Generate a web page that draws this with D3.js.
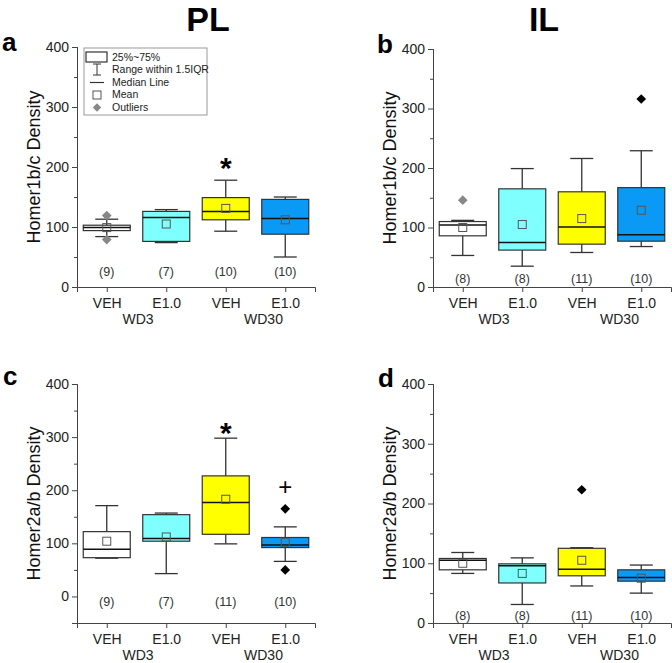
<!DOCTYPE html>
<html>
<head>
<meta charset="utf-8">
<script src="https://cdn.jsdelivr.net/npm/d3@7"></script>
<style>
    body { margin: 0; background: #fff; }
    svg { font-family: "Liberation Sans", Arial, sans-serif; }
</style>
</head>
<body>
<div id="chart"></div>
<script>
// Categories
const groups = ['VEH', 'E1.0', 'VEH', 'E1.0'];
const days = ['WD3', 'WD30'];

// Panel a: PL Homer1b/c
const aLow = [84, 74, 93, 50];
const aQ1 = [94, 76, 112, 88];
const aMedian = [99, 116, 126, 114];
const aQ3 = [103, 126, 149, 146];
const aHigh = [113, 129, 178, 150];
const aMean = [99, 105, 131, 112];
const aOutliers = [[119, 79], [], [], []];
const aN = ['(9)', '(7)', '(10)', '(10)'];

// Panel b: IL Homer1b/c
const bLow = [53, 35, 58, 68];
const bQ1 = [86, 62, 72, 77];
const bMedian = [104, 75, 101, 88];
const bQ3 = [110, 165, 160, 167];
const bHigh = [112, 199, 216, 229];
const bMean = [100, 105, 115, 129];
const bOutliers = [[146], [], [], [316]];
const bN = ['(8)', '(8)', '(11)', '(10)'];

// Panel c: PL Homer2a/b
const cLow = [72, 43, 99, 66];
const cQ1 = [73, 104, 117, 92];
const cMedian = [89, 109, 177, 97];
const cQ3 = [122, 154, 227, 111];
const cHigh = [171, 157, 298, 131];
const cMean = [104, 112, 183, 102];
const cOutliers = [[], [], [], [165, 50]];
const cN = ['(9)', '(7)', '(11)', '(10)'];

// Panel d: IL Homer2a/b
const dLow = [83, 31, 62, 50];
const dQ1 = [89, 67, 79, 70];
const dMedian = [105, 96, 90, 76];
const dQ3 = [108, 99, 125, 89];
const dHigh = [118, 109, 126, 97];
const dMean = [100, 83, 105, 75];
const dOutliers = [[], [], [223], []];
const dN = ['(8)', '(8)', '(11)', '(10)'];

// Significance marks [group index, value, symbol]
const aMarks = [[2, 218, '*']];
const cMarks = [[2, 329, '*'], [3, 206, '+']];

const fills = ['#ffffff', '#80ffff', '#ffff00', '#0a99f5'];
const stroke = '#333';

const svg = d3.select('#chart')
    .append('svg')
    .attr('width', 672)
    .attr('height', 663);

function buildBoxes(low, q1, median, q3, high, mean, outliers) {
    return groups.map((g, i) => ({
        i: i,
        low: low[i], q1: q1[i], median: median[i], q3: q3[i], high: high[i],
        mean: mean[i], outliers: outliers[i]
    }));
}

function drawPanel(opt) {
    const g = svg.append('g');
    const x = d3.scalePoint()
        .domain(d3.range(groups.length))
        .range([opt.left, opt.left + 238])
        .padding(0.5);
    const y = d3.scaleLinear()
        .domain(opt.domain)
        .range([opt.bottom, opt.top]);

    const boxW = 47, capW = 23;

    // Axes
    const yMajor = d3.axisLeft(y).tickValues([0, 100, 200, 300, 400]).tickSize(5).tickPadding(3);
    const yMinor = d3.axisLeft(y)
        .tickValues(d3.range(opt.domain[0] < 0 ? -50 : 50, 400, 100))
        .tickSize(3).tickFormat('');
    g.append('g').attr('transform', `translate(${opt.left},0)`).call(yMinor);
    g.append('g').attr('transform', `translate(${opt.left},0)`).call(yMajor)
        .selectAll('text').attr('font-size', 14).attr('fill', '#222');

    g.append('g')
        .attr('transform', `translate(0,${opt.bottom})`)
        .call(d3.axisBottom(x).tickSize(5).tickPadding(6).tickFormat(i => groups[i]))
        .selectAll('text').attr('font-size', 14).attr('fill', '#222');

    g.selectAll('.domain, .tick line').attr('stroke', '#444');

    // Day labels under the pairs
    g.selectAll('.day')
        .data(days)
        .enter()
        .append('text')
        .attr('x', (d, k) => (x(k * 2) + x(k * 2 + 1)) / 2 + (k === 0 ? 1.5 : 8))
        .attr('y', opt.bottom + 37)
        .attr('text-anchor', 'middle')
        .attr('font-size', 14)
        .attr('fill', '#222')
        .text(d => d);

    // Y label
    g.append('text')
        .attr('transform', `translate(${opt.left - 37},${(opt.bottom + y(400)) / 2}) rotate(-90)`)
        .attr('text-anchor', 'middle')
        .attr('font-size', 18)
        .attr('fill', '#111')
        .text(opt.ylabel);

    // Panel letter
    g.append('text')
        .attr('x', opt.letterX)
        .attr('y', opt.letterY)
        .attr('font-size', 26)
        .attr('font-weight', 'bold')
        .text(opt.letter);

    const boxes = g.selectAll('.box')
        .data(opt.boxes)
        .enter()
        .append('g');

    // Whiskers
    boxes.append('line')
        .attr('x1', d => x(d.i)).attr('x2', d => x(d.i))
        .attr('y1', d => y(d.high)).attr('y2', d => y(d.q3))
        .attr('stroke', stroke).attr('stroke-width', 1.3);
    boxes.append('line')
        .attr('x1', d => x(d.i)).attr('x2', d => x(d.i))
        .attr('y1', d => y(d.low)).attr('y2', d => y(d.q1))
        .attr('stroke', stroke).attr('stroke-width', 1.3);
    ['high', 'low'].forEach(k => {
        boxes.append('line')
            .attr('x1', d => x(d.i) - capW / 2).attr('x2', d => x(d.i) + capW / 2)
            .attr('y1', d => y(d[k])).attr('y2', d => y(d[k]))
            .attr('stroke', stroke).attr('stroke-width', 1.3);
    });

    // Box
    boxes.append('rect')
        .attr('x', d => x(d.i) - boxW / 2)
        .attr('width', boxW)
        .attr('y', d => y(d.q3))
        .attr('height', d => y(d.q1) - y(d.q3))
        .attr('fill', d => fills[d.i])
        .attr('stroke', stroke)
        .attr('stroke-width', 1.2);

    // Median
    boxes.append('line')
        .attr('x1', d => x(d.i) - boxW / 2).attr('x2', d => x(d.i) + boxW / 2)
        .attr('y1', d => y(d.median)).attr('y2', d => y(d.median))
        .attr('stroke', '#111').attr('stroke-width', 1.5);

    // Mean
    boxes.append('rect')
        .attr('x', d => x(d.i) - 4)
        .attr('y', d => y(d.mean) - 4)
        .attr('width', 8).attr('height', 8)
        .attr('fill', 'none')
        .attr('stroke', '#555')
        .attr('stroke-width', 1);

    // Outliers
    const diamond = d3.symbol().type(d3.symbolDiamond2).size(60);
    boxes.selectAll('.outlier')
        .data(d => d.outliers.map(v => ({ i: d.i, v: v })))
        .enter()
        .append('path')
        .attr('d', diamond)
        .attr('transform', d => `translate(${x(d.i)},${y(d.v)})`)
        .attr('fill', d => opt.grayOutliers.includes(d.i) ? '#888' : '#000');

    // n labels
    g.selectAll('.n')
        .data(opt.n)
        .enter()
        .append('text')
        .attr('x', (d, i) => x(i))
        .attr('y', opt.bottom - opt.nOffset)
        .attr('dy', '0.35em')
        .attr('text-anchor', 'middle')
        .attr('font-size', 12.5)
        .attr('fill', '#333')
        .text(d => d);

    // Significance marks
    g.selectAll('.mark')
        .data(opt.marks)
        .enter()
        .append('text')
        .attr('x', d => x(d[0]))
        .attr('y', d => y(d[1]))
        .attr('dy', d => d[2] === '*' ? '0.72em' : '0.35em')
        .attr('text-anchor', 'middle')
        .attr('font-size', d => d[2] === '*' ? 30 : 24)
        .attr('font-weight', d => d[2] === '*' ? 'bold' : 'normal')
        .text(d => d[2]);
}

// Titles
svg.selectAll('.title')
    .data([['PL', 208], ['IL', 544]])
    .enter()
    .append('text')
    .attr('x', d => d[1])
    .attr('y', 31)
    .attr('text-anchor', 'middle')
    .attr('font-size', 34)
    .attr('font-weight', 'bold')
    .text(d => d[0]);

drawPanel({
    letter: 'a', letterX: 2, letterY: 51,
    left: 77, top: 47, bottom: 287, domain: [0, 400],
    ylabel: 'Homer1b/c Density',
    boxes: buildBoxes(aLow, aQ1, aMedian, aQ3, aHigh, aMean, aOutliers),
    grayOutliers: [0], n: aN, nOffset: 15, marks: aMarks
});
drawPanel({
    letter: 'b', letterX: 377, letterY: 53,
    left: 433, top: 49, bottom: 287, domain: [0, 400],
    ylabel: 'Homer1b/c Density',
    boxes: buildBoxes(bLow, bQ1, bMedian, bQ3, bHigh, bMean, bOutliers),
    grayOutliers: [0], n: bN, nOffset: 8, marks: []
});
drawPanel({
    letter: 'c', letterX: 3, letterY: 385,
    left: 77, top: 384, bottom: 623, domain: [-50, 400],
    ylabel: 'Homer2a/b Density',
    boxes: buildBoxes(cLow, cQ1, cMedian, cQ3, cHigh, cMean, cOutliers),
    grayOutliers: [], n: cN, nOffset: 21, marks: cMarks
});
drawPanel({
    letter: 'd', letterX: 378, letterY: 387,
    left: 433, top: 384, bottom: 623, domain: [0, 400],
    ylabel: 'Homer2a/b Density',
    boxes: buildBoxes(dLow, dQ1, dMedian, dQ3, dHigh, dMean, dOutliers),
    grayOutliers: [], n: dN, nOffset: 7, marks: []
});

// Legend in panel a
const legend = svg.append('g').attr('transform', 'translate(84,48)');
legend.append('rect')
    .attr('width', 123).attr('height', 67)
    .attr('fill', '#fff').attr('stroke', '#999');
const legendItems = ['25%~75%', 'Range within 1.5IQR', 'Median Line', 'Mean', 'Outliers'];
legend.selectAll('.item')
    .data(legendItems)
    .enter()
    .append('text')
    .attr('x', 28)
    .attr('y', (d, i) => 9 + i * 12.6)
    .attr('dy', '0.35em')
    .attr('font-size', 10.5)
    .attr('fill', '#222')
    .text(d => d);
legend.append('rect').attr('x', 2).attr('y', 4).attr('width', 21).attr('height', 10)
    .attr('fill', '#fff').attr('stroke', stroke).attr('stroke-width', 1.2);
legend.append('line').attr('x1', 13).attr('x2', 13).attr('y1', 16).attr('y2', 27).attr('stroke', stroke);
legend.append('line').attr('x1', 9).attr('x2', 17).attr('y1', 16).attr('y2', 16).attr('stroke', stroke);
legend.append('line').attr('x1', 9).attr('x2', 17).attr('y1', 27).attr('y2', 27).attr('stroke', stroke);
legend.append('line').attr('x1', 6).attr('x2', 20).attr('y1', 34.5).attr('y2', 34.5).attr('stroke', stroke).attr('stroke-width', 1.2);
legend.append('rect').attr('x', 9).attr('y', 43).attr('width', 8).attr('height', 8)
    .attr('fill', 'none').attr('stroke', '#555');
legend.append('path')
    .attr('d', d3.symbol().type(d3.symbolDiamond2).size(45))
    .attr('transform', 'translate(13,59.5)')
    .attr('fill', '#888');
</script>
</body>
</html>
